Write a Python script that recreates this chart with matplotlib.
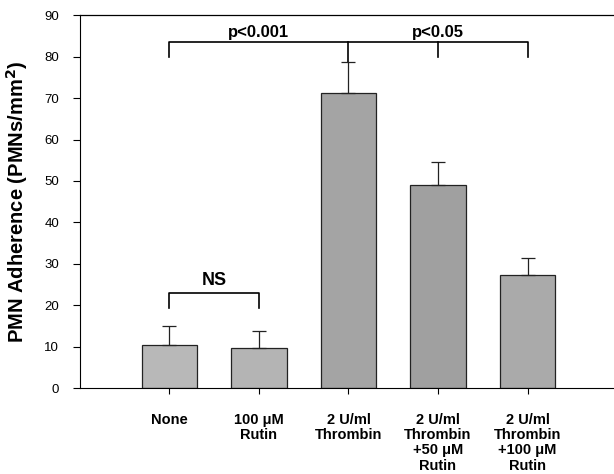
import matplotlib

matplotlib.use("Agg")
import matplotlib.pyplot as plt
import numpy as np

plt.rcParams["font.family"] = ["Liberation Sans", "DejaVu Sans"]

categories = ["None", "100 \u03bcM\nRutin", "2 U/ml\nThrombin", "2 U/ml\nThrombin\n+50 \u03bcM\nRutin",
              "2 U/ml\nThrombin\n+100 \u03bcM\nRutin"]
means = [10.5, 9.8, 71.2, 49.0, 27.2]
sem = [4.5, 4.0, 7.5, 5.5, 4.3]
bar_colors = ["#b8b8b8", "#b4b4b4", "#a4a4a4", "#a0a0a0", "#aaaaaa"]
y_ticks = [0, 10, 20, 30, 40, 50, 60, 70, 80, 90]

fig = plt.figure(figsize=(6.14, 4.74), dpi=100)
ax = fig.add_axes([0.13, 0.181, 0.875, 0.787])

x = np.arange(1, len(categories) + 1)
ax.bar(x, means, width=0.62, color=bar_colors, edgecolor="#222222", linewidth=0.9, zorder=2)
ax.errorbar(x, means, yerr=[np.zeros(len(sem)), sem], fmt="none", ecolor="#222222",
            elinewidth=0.9, capsize=5, capthick=0.9, zorder=3)

ax.set_xlim(0, 6)
ax.set_ylim(0, 90)
ax.set_yticks(y_ticks)
ax.set_xticks(x)
ax.set_xticklabels(categories, fontsize=10.5, fontweight="bold", linespacing=1.1, va="top")
ax.tick_params(axis="x", direction="out", length=4, pad=14)
ax.tick_params(axis="y", direction="out", length=5, labelsize=9.5, pad=10)
ax.spines["right"].set_visible(False)
ax.spines["top"].set_linewidth(0.9)
ax.set_ylabel("PMN Adherence (PMNs/mm$\\mathbf{^2}$)", fontsize=14.5, fontweight="bold", labelpad=10)

# significance brackets
lw = 1.2
top = 83.5
ax.plot([1, 1, 5, 5], [80, top, top, 80], color="black", lw=lw, clip_on=False)
ax.plot([3, 3], [top, means[2] + sem[2]], color="black", lw=lw)
ax.plot([4, 4], [top, 80], color="black", lw=lw)
ax.text(2.0, top + 0.6, "p<0.001", ha="center", va="bottom", fontsize=12, fontweight="bold")
ax.text(4.0, top + 0.6, "p<0.05", ha="center", va="bottom", fontsize=12, fontweight="bold")

ax.plot([1, 1, 2, 2], [19.3, 23, 23, 19.3], color="black", lw=lw)
ax.text(1.5, 24.0, "NS", ha="center", va="bottom", fontsize=13, fontweight="bold")

fig.savefig("out.png", dpi=100)
